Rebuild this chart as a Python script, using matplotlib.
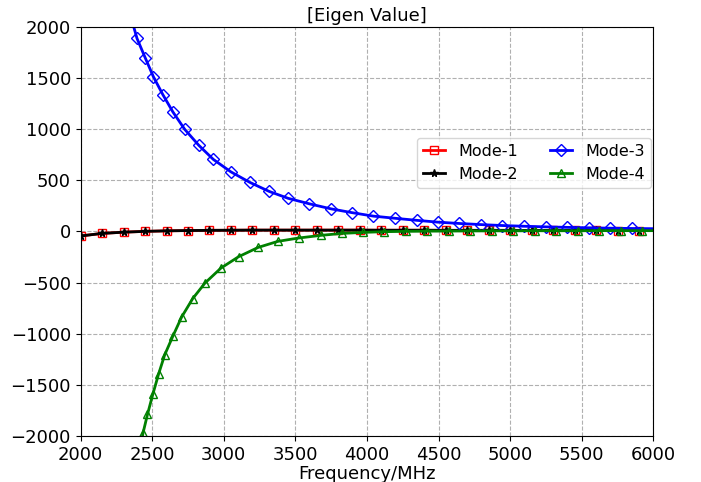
import matplotlib
matplotlib.use("Agg")
import matplotlib.pyplot as plt

# Mode-1 / Mode-2: nearly flat around zero
freq_12 = [2000, 2150, 2300, 2450, 2600, 2750, 2900, 3050, 3200, 3350, 3500,
           3650, 3800, 3950, 4100, 4250, 4400, 4550, 4700, 4850, 5000, 5150,
           5300, 5450, 5600, 5750, 5900, 6000]
mode1 = [-45, -20, -8, 0, 5, 8, 10, 11, 12, 12, 12,
         12, 12, 12, 11, 11, 11, 10, 10, 10, 10, 9,
         9, 9, 9, 8, 8, 8]
mode2 = [-45, -20, -8, 0, 5, 8, 10, 11, 12, 12, 12,
         12, 12, 12, 11, 11, 11, 10, 10, 10, 10, 9,
         9, 9, 9, 8, 8, 8]

# Mode-3: positive branch
freq_3 = [2340, 2394, 2453, 2509, 2574, 2645, 2727, 2826, 2927, 3049, 3180,
          3314, 3449, 3598, 3749, 3895, 4044, 4195, 4346, 4495, 4645, 4798,
          4945, 5094, 5247, 5398, 5549, 5700, 5851, 6000]
mode3 = [2150, 1885, 1690, 1509, 1337, 1166, 997, 840, 703, 582, 480,
         392, 323, 269, 220, 183, 149, 128, 108, 90, 77, 66,
         57, 50, 44, 39, 35, 31, 28, 26]

# Mode-4: negative branch
freq_4 = [2400, 2436, 2467, 2504, 2544, 2587, 2645, 2706, 2783, 2868, 2980,
          3103, 3240, 3377, 3523, 3679, 3826, 3974, 4121, 4271, 4421, 4571,
          4721, 4871, 5021, 5171, 5321, 5471, 5621, 5771, 5921, 6000]
mode4 = [-2250, -1970, -1789, -1594, -1397, -1208, -1022, -836, -657, -506, -359,
         -248, -157, -98, -65, -39, -20, -10, -3, 0, 2, 3,
         4, 5, 5, 6, 6, 6, 7, 7, 7, 7]

fig = plt.figure(figsize=(7.01, 4.82), dpi=100)
ax = fig.add_axes([0.115, 0.0954, 0.817, 0.8492])

ax.plot(freq_12, mode1, color='r', marker='s', mfc='none', ms=5.5, lw=2,
        markevery=slice(0, -1), label='Mode-1')
ax.plot(freq_12, mode2, color='k', marker='*', ms=5.5, lw=2,
        markevery=slice(0, -1), label='Mode-2')
ax.plot(freq_3, mode3, color='b', marker='D', mfc='none', ms=6, lw=2,
        markevery=slice(1, -1), label='Mode-3')
ax.plot(freq_4, mode4, color='g', marker='^', mfc='none', ms=5.5, lw=2,
        markevery=slice(1, -1), label='Mode-4')

ax.set_xlim(2000, 6000)
ax.set_ylim(-2000, 2000)
ax.grid(True, linestyle='--', color='#b0b0b0')
ax.tick_params(labelsize=13)
ax.set_xlabel('Frequency/MHz', fontsize=13, labelpad=1)
ax.set_title('[Eigen Value]', fontsize=13, pad=4)
ax.legend(ncol=2, loc='upper right', bbox_to_anchor=(1.0, 0.735),
          borderaxespad=0.15, fontsize=11.5, handlelength=1.4,
          columnspacing=2.0)

fig.savefig('out.png', dpi=100)
